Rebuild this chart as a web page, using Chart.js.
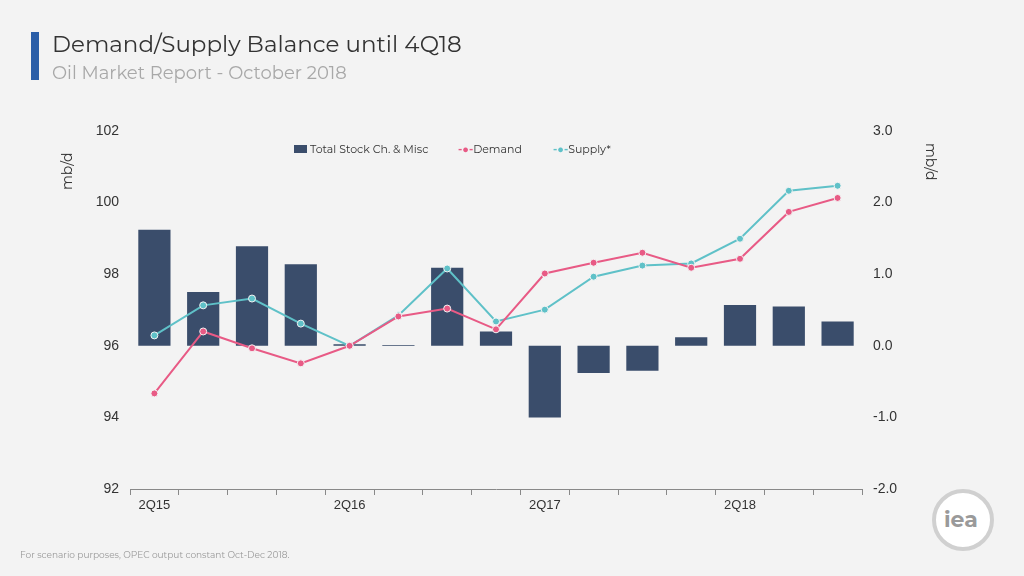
<!DOCTYPE html>
<html><head><meta charset="utf-8">
<script src="https://cdn.jsdelivr.net/npm/chart.js@4"></script>
<style>
body{margin:0;background:#f3f3f3;font-family:Montserrat,"Open Sans",sans-serif;}
#wrap{position:relative;width:1024px;height:576px;overflow:hidden;}
canvas{position:absolute;left:0;top:0;}
.abs{position:absolute;white-space:nowrap;}
</style></head><body>
<div id="wrap">
<canvas id="c" width="1024" height="576"></canvas>
<div class="abs" style="left:31px;top:32px;width:8px;height:48px;background:#2a5ea8"></div>
<div class="abs" style="left:52px;top:30px;font-size:23px;color:#333">Demand/Supply Balance until 4Q18</div>
<div class="abs" style="left:52px;top:62px;font-size:18px;color:#a8a8a8">Oil Market Report - October 2018</div>
<div class="abs" style="left:58px;top:190px;font-size:14px;color:#333;transform:rotate(-90deg);transform-origin:left top">mb/d</div>
<div class="abs" style="left:940px;top:143px;font-size:14px;color:#333;transform:rotate(90deg);transform-origin:left top">mb/d</div>
<div class="abs" style="left:294px;top:142px;font-size:11px;color:#333"><span style="display:inline-block;width:13px;height:8px;background:#3a4d6b;margin-right:3px"></span>Total Stock Ch. &amp; Misc</div>
<div class="abs" style="left:458px;top:142px;font-size:11px;color:#333"><span style="color:#e85a85;font-weight:bold">-●-</span>Demand</div>
<div class="abs" style="left:553px;top:142px;font-size:11px;color:#333"><span style="color:#5fc1c8;font-weight:bold">-●-</span>Supply*</div>
<div class="abs" style="left:20px;top:549px;font-size:9px;color:#999">For scenario purposes, OPEC output constant Oct-Dec 2018.</div>
<div class="abs" style="left:932px;top:489px;width:54px;height:54px;border-radius:50%;border:4px solid #d0d0d0;background:#fff"></div>
<div class="abs" style="left:944px;top:506px;font-size:22px;font-weight:bold;color:#9a9a9a">iea</div>
</div>
<script>
const quarters = ['2Q15','3Q15','4Q15','1Q16','2Q16','3Q16','4Q16','1Q17','2Q17','3Q17','4Q17','1Q18','2Q18','3Q18','4Q18'];
const stockChange = [1.62,0.75,1.39,1.14,0.02,0.01,1.09,0.2,-1.0,-0.38,-0.35,0.12,0.57,0.55,0.34];
const demand = [94.67,96.4,95.93,95.51,96.0,96.82,97.04,96.46,98.02,98.32,98.6,98.18,98.43,99.74,100.13];
const supply = [96.29,97.13,97.32,96.62,96.0,96.85,98.16,96.68,97.01,97.93,98.24,98.3,98.99,100.33,100.47];
const leftTicks = [92,94,96,98,100,102];
const rightTicks = [-2,-1,0,1,2,3];

const pt = c => ({type:'line',borderColor:c,backgroundColor:c,pointBorderColor:'#f3f3f3',pointBorderWidth:1,
  pointRadius:3.5,borderWidth:2,tension:0,yAxisID:'y',order:1});
new Chart(document.getElementById('c'), {
  data: {
    labels: quarters,
    datasets: [
      Object.assign(pt('#e85a85'), {label:'Demand', data:demand}),
      Object.assign(pt('#5fc1c8'), {label:'Supply*', data:supply}),
      {type:'bar', label:'Total Stock Ch. & Misc', data:stockChange, backgroundColor:'#3a4d6b',
       yAxisID:'y1', order:2, categoryPercentage:0.66, barPercentage:1}
    ]
  },
  options: {
    responsive:false, animation:false,
    layout:{padding:{left:90,right:122,top:131,bottom:57}},
    plugins:{legend:{display:false}, tooltip:{enabled:false}},
    scales:{
      x:{offset:true, grid:{offset:true, display:true, drawOnChartArea:false, color:'#888', tickLength:6},
         border:{color:'#888'},
         ticks:{color:'#333', font:{size:13}, autoSkip:false, maxRotation:0,
           callback:(v,i)=> i%4===0 ? quarters[i] : ''},
         afterFit:s=>{s.height=30;}},
      y:{position:'left', min:92, max:102, grid:{display:false}, border:{display:false},
         afterBuildTicks:s=>{s.ticks=leftTicks.map(v=>({value:v}));},
         ticks:{color:'#333', font:{size:14}},
         afterFit:s=>{s.width=40;}},
      y1:{position:'right', min:-2, max:3, grid:{display:false}, border:{display:false},
         afterBuildTicks:s=>{s.ticks=rightTicks.map(v=>({value:v}));},
         ticks:{color:'#333', font:{size:14}, callback:v=>v.toFixed(1)},
         afterFit:s=>{s.width=40;}}
    }
  }
});
</script>
</body></html>
